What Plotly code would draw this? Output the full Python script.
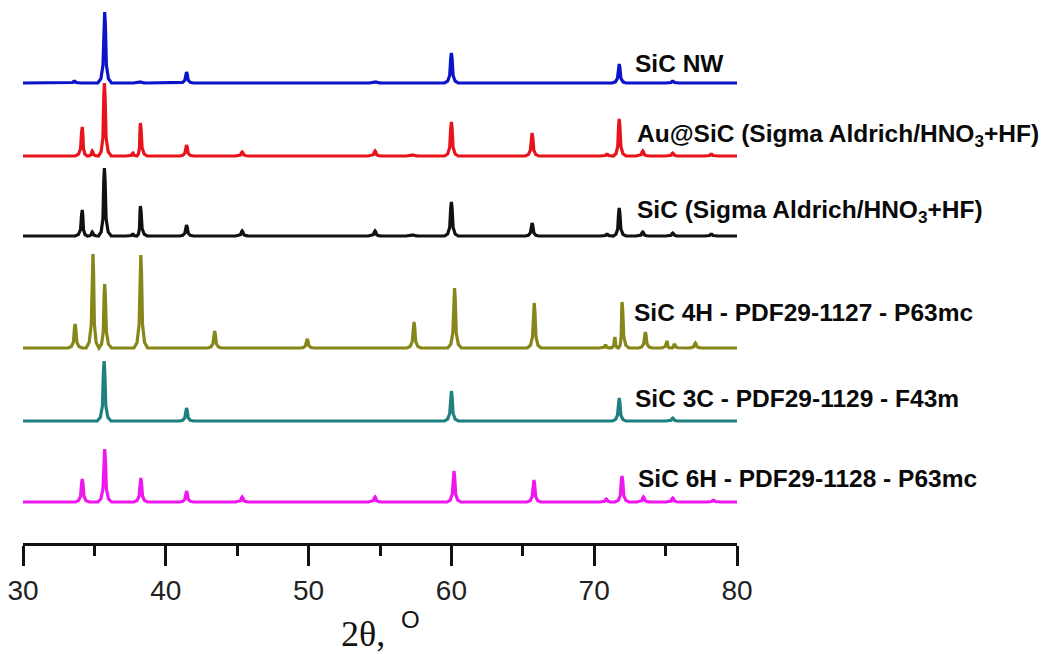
import plotly.graph_objects as go

# ---------------- data ----------------
# peak positions (2theta, deg) and peak heights (a.u.) for each pattern
nw_pos = [33.6, 35.72, 38.2, 41.45, 54.7, 60.0, 71.75, 75.5]
nw_h = [2, 71, 1, 11, 1, 30, 19, 2]

au_pos = [34.15, 34.85, 35.7, 37.7, 38.22, 41.45, 45.35, 54.65, 57.3, 60.0, 65.65, 70.9, 71.75, 73.4, 75.5, 78.2]
au_h = [29, 5, 73, 3, 33, 11, 4, 5, 1, 34, 23, 2, 37, 5, 3, 2]

sic_pos = [34.15, 34.85, 35.7, 37.7, 38.22, 41.45, 45.35, 54.65, 57.3, 60.0, 65.65, 70.9, 71.75, 73.4, 75.5, 78.2]
sic_h = [26, 4, 68, 2, 30, 11, 5, 5, 1, 34, 13, 2, 28, 4, 3, 2]

h4_pos = [33.65, 34.9, 35.72, 38.25, 43.42, 49.9, 57.38, 60.22, 65.8, 70.8, 71.45, 71.95, 73.58, 75.1, 75.6, 77.08]
h4_h = [24, 94, 64, 93, 17, 9, 26, 60, 45, 3, 11, 46, 16, 7, 4, 5]

c3_pos = [35.68, 41.45, 60.0, 71.75, 75.5]
c3_h = [60, 13, 30, 23, 3]

h6_pos = [34.15, 35.72, 38.25, 41.45, 45.35, 54.65, 60.18, 65.78, 70.85, 71.95, 73.45, 75.5, 78.35]
h6_h = [23, 53, 24, 11, 5, 5, 31, 22, 3, 26, 5, 4, 2]

labels = [
    "SiC NW",
    "Au@SiC (Sigma Aldrich/HNO<sub>3</sub>+HF)",
    "SiC (Sigma Aldrich/HNO<sub>3</sub>+HF)",
    "SiC 4H - PDF29-1127 - P63mc",
    "SiC 3C - PDF29-1129 - F43m",
    "SiC 6H - PDF29-1128 - P63mc",
]
x_ticks = [30, 40, 50, 60, 70, 80]

# ---------------- styling / layout ----------------
W, H = 1041, 654
AX_Y = 543          # pixel row of the x axis line
X0PX, X1PX = 23, 737
colors = ["#0c14c8", "#e8141c", "#111111", "#86861a", "#1f8080", "#ee18ee"]
baseline_px = [83, 156, 236, 348, 421, 502]
label_px = [(633, 63), (635, 135), (635, 211), (632, 312), (633, 398), (636, 478)]

series = [(nw_pos, nw_h), (au_pos, au_h), (sic_pos, sic_h),
          (h4_pos, h4_h), (c3_pos, c3_h), (h6_pos, h6_h)]

# peak glyph (shape of a reflection), half width in degrees
HW = 0.48
gdx = [-1.0, -0.55, -0.25, -0.1, 0.0, 0.1, 0.25, 0.55, 1.0]
gdy = [0.0, 0.06, 0.25, 0.82, 1.0, 0.82, 0.25, 0.06, 0.0]


def build(pos, hts):
    xs, ys = [30.0], [0.0]
    n = len(pos)
    for i, (p, h) in enumerate(zip(pos, hts)):
        left = HW if i == 0 else min(HW, (p - pos[i - 1]) / 2 - 0.01)
        right = HW if i == n - 1 else min(HW, (pos[i + 1] - p) / 2 - 0.01)
        for dx, dy in zip(gdx, gdy):
            w = left if dx < 0 else right
            xs.append(p + dx * w)
            ys.append(h * dy)
    xs.append(80.0)
    ys.append(0.0)
    return xs, ys


fig = go.Figure()
for (pos, hts), col, bpx in zip(series, colors, baseline_px):
    xs, ys = build(pos, hts)
    base = AX_Y - bpx
    fig.add_trace(go.Scatter(
        x=xs, y=[base + v for v in ys], mode="lines",
        line=dict(color=col, width=3.2, shape="linear"),
        showlegend=False, hoverinfo="skip", cliponaxis=False,
    ))

px_per_deg = (X1PX - X0PX) / 50.0
for txt, (lx, ly) in zip(labels, label_px):
    fig.add_annotation(
        x=30 + (lx - X0PX) / px_per_deg, y=AX_Y - ly, xref="x", yref="y",
        text="<b>" + txt + "</b>", showarrow=False, xanchor="left", yanchor="middle",
        font=dict(family="Liberation Sans, Arial, sans-serif", size=24.5, color="#0a0a0a"),
    )

# axis title: "2θ, °"
fig.add_annotation(
    x=(363 - X0PX) / (X1PX - X0PX), y=-(634 - AX_Y) / AX_Y, xref="paper", yref="paper",
    text="2θ,", showarrow=False, xanchor="center", yanchor="middle",
    font=dict(family="Liberation Serif, Times New Roman, serif", size=36, color="#111111"),
)
fig.add_annotation(
    x=(411 - X0PX) / (X1PX - X0PX), y=-(619 - AX_Y) / AX_Y, xref="paper", yref="paper",
    text="O", showarrow=False, xanchor="center", yanchor="middle",
    font=dict(family="Liberation Sans, Arial, sans-serif", size=24, color="#111111"),
)

fig.update_layout(
    width=W, height=H,
    margin=dict(l=X0PX, r=W - X1PX, t=0, b=H - AX_Y),
    paper_bgcolor="white", plot_bgcolor="white",
    xaxis=dict(
        range=[30, 80], tickvals=x_ticks, ticktext=[str(v) for v in x_ticks],
        showline=True, linecolor="#111111", linewidth=3, mirror=False,
        ticks="outside", ticklen=20, tickwidth=3, tickcolor="#111111",
        minor=dict(dtick=5, tick0=30, ticks="outside", ticklen=10, tickwidth=3, tickcolor="#111111"),
        showgrid=False, zeroline=False,
        tickfont=dict(family="Liberation Sans, Arial, sans-serif", size=28, color="#222222"),
    ),
    yaxis=dict(range=[0, AX_Y], visible=False, showgrid=False, zeroline=False, fixedrange=True),
)

fig.write_html("out.html")
